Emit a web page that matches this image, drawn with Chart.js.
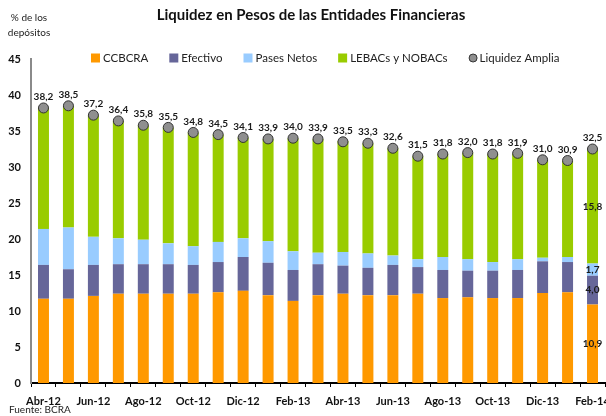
<!DOCTYPE html>
<html>
<head>
<meta charset="utf-8">
<script src="https://cdn.jsdelivr.net/npm/chart.js@4.4.1/dist/chart.umd.min.js"></script>
<style>
  html, body { margin: 0; padding: 0; background: #fff; }
  #wrap { width: 606px; height: 416px; }
</style>
</head>
<body>
<div id="wrap"><canvas id="liqChart" width="606" height="416"></canvas></div>
<script>
// --- Data ---
const months = ['Abr-12','May-12','Jun-12','Jul-12','Ago-12','Sep-12','Oct-12','Nov-12','Dic-12','Ene-13','Feb-13','Mar-13',
                'Abr-13','May-13','Jun-13','Jul-13','Ago-13','Sep-13','Oct-13','Nov-13','Dic-13','Ene-14','Feb-14'];
const ccbcra   = [11.7,11.7,12.1,12.4,12.4,12.4,12.4,12.6,12.8,12.2,11.4,12.2,12.4,12.2,12.2,12.4,11.8,11.9,11.8,11.8,12.5,12.6,10.9];
const efectivo = [4.7,4.1,4.3,4.1,4.1,4.1,4.0,4.2,4.7,4.5,4.3,4.3,3.9,3.8,4.2,3.7,3.9,3.7,3.8,3.9,4.4,4.2,4.0];
const pases    = [5.0,5.8,3.9,3.6,3.4,2.9,2.6,2.8,2.6,3.0,2.6,1.6,1.9,2.0,1.3,1.1,1.8,1.6,1.2,1.5,0.5,0.7,1.7];
const lebacs   = [16.8,16.9,16.9,16.3,15.9,16.1,15.8,14.9,14.0,14.2,15.7,15.8,15.4,15.3,14.9,14.3,14.3,14.8,15.0,14.7,13.6,13.4,15.8];
const liquidez = [38.2,38.5,37.2,36.4,35.8,35.5,34.8,34.5,34.1,33.9,34.0,33.9,33.5,33.3,32.6,31.5,31.8,32.0,31.8,31.9,31.0,30.9,32.5];

const FONT = 'Lato, "DejaVu Sans", sans-serif';
const fmt = v => v.toFixed(1).replace('.', ',');

// title, legend, unit note and source text
const extrasPlugin = {
  id: 'extras',
  afterDraw(chart) {
    const ctx = chart.ctx;
    ctx.save();
    ctx.textBaseline = 'middle';
    ctx.textAlign = 'center';
    ctx.fillStyle = '#111';
    ctx.font = 'bold 15px ' + FONT;
    ctx.fillText('Liquidez en Pesos de las Entidades Financieras', 311, 15);

    ctx.fillStyle = '#222';
    ctx.font = '10px ' + FONT;
    ctx.fillText('% de los', 29, 18);
    ctx.fillText('depósitos', 29, 33);
    ctx.textAlign = 'left';
    ctx.fillText('Fuente: BCRA', 9, 410);

    // legend
    ctx.font = '11.5px ' + FONT;
    let x = 91;
    const y = 58;
    chart.data.datasets.forEach(ds => {
      if (ds.type === 'line') {
        ctx.beginPath();
        ctx.arc(x + 4.5, y, 4, 0, Math.PI * 2);
        ctx.fillStyle = ds.pointBackgroundColor;
        ctx.fill();
        ctx.lineWidth = 1;
        ctx.strokeStyle = ds.pointBorderColor;
        ctx.stroke();
        x += 11;
      } else {
        ctx.fillStyle = ds.backgroundColor;
        ctx.fillRect(x, y - 4.5, 9, 9);
        x += 12;
      }
      ctx.fillStyle = '#222';
      ctx.fillText(ds.label, x, y);
      x += ctx.measureText(ds.label).width + 21;
    });
    ctx.restore();
  }
};

// value labels above the points and inside the last bar
const labelsPlugin = {
  id: 'valueLabels',
  afterDatasetsDraw(chart) {
    const ctx = chart.ctx;
    ctx.save();
    ctx.font = 'bold 10px ' + FONT;
    ctx.fillStyle = '#1a1a1a';
    ctx.textAlign = 'center';
    ctx.textBaseline = 'middle';
    chart.data.datasets.forEach((ds, i) => {
      const meta = chart.getDatasetMeta(i);
      if (ds.type === 'line') {
        meta.data.forEach((pt, j) => {
          ctx.fillText(fmt(ds.data[j]), pt.x, pt.y - 11);
        });
      } else {
        const last = meta.data.length - 1;
        const el = meta.data[last];
        ctx.fillText(fmt(ds.data[last]), el.x, (el.y + el.base) / 2);
      }
    });
    ctx.restore();
  }
};

const ctx = document.getElementById('liqChart').getContext('2d');
new Chart(ctx, {
  type: 'bar',
  data: {
    labels: months,
    datasets: [
      {label: 'CCBCRA', data: ccbcra, backgroundColor: '#FF9900', order: 1},
      {label: 'Efectivo', data: efectivo, backgroundColor: '#666699', order: 1},
      {label: 'Pases Netos', data: pases, backgroundColor: '#99CCFF', order: 1},
      {label: 'LEBACs y NOBACs', data: lebacs, backgroundColor: '#99CC00', order: 1},
      {type: 'line', label: 'Liquidez Amplia', data: liquidez, showLine: false,
       pointRadius: 5, pointBackgroundColor: '#8f8f8f', pointBorderColor: '#333', pointBorderWidth: 1, order: 0}
    ]
  },
  options: {
    responsive: false,
    animation: false,
    devicePixelRatio: 1,
    layout: {autoPadding: false, padding: {left: 0, right: 1, top: 59, bottom: 0}},
    datasets: {bar: {barPercentage: 0.44, categoryPercentage: 1}},
    plugins: {
      legend: {display: false},
      tooltip: {enabled: false},
      title: {display: false}
    },
    scales: {
      x: {
        stacked: true,
        afterFit: s => { s.height = 33; s.paddingLeft = 0; s.paddingRight = 0; },
        grid: {display: true, drawOnChartArea: false, color: '#000', tickLength: 4, offset: true},
        border: {color: '#000', width: 2},
        ticks: {
          autoSkip: false, maxRotation: 0, padding: 8, color: '#111',
          font: {family: FONT, size: 11, weight: 'bold'},
          callback: (v, i) => i % 2 === 0 ? months[i] : ''
        }
      },
      y: {
        stacked: true,
        min: 0, max: 45,
        afterFit: s => { s.width = 31; s.paddingTop = 0; s.paddingBottom = 0; },
        grid: {display: false, drawTicks: false},
        border: {color: '#8a8a8a', width: 2},
        ticks: {stepSize: 5, padding: 10, color: '#111', font: {family: FONT, size: 11, weight: 'bold'}}
      }
    }
  },
  plugins: [extrasPlugin, labelsPlugin]
});
</script>
</body>
</html>
